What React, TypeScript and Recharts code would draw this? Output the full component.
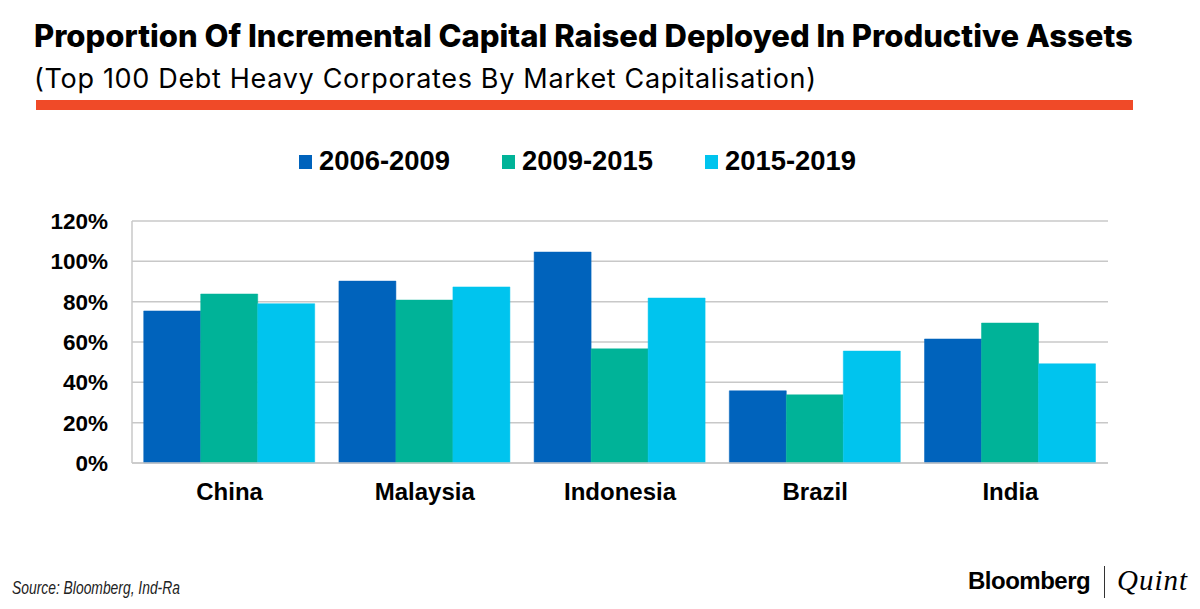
import React from "react";
import { BarChart, Bar, XAxis, YAxis, CartesianGrid, Legend } from "recharts";

const categories = ["China", "Malaysia", "Indonesia", "Brazil", "India"];
const s2006 = [75.4, 90.2, 104.6, 35.8, 61.5];
const s2009 = [83.8, 80.8, 56.6, 33.8, 69.4];
const s2015 = [79, 87.3, 81.8, 55.5, 49.2];
const yTicks = [0, 20, 40, 60, 80, 100, 120];
const data = categories.map((name, i) => ({ name, a: s2006[i], b: s2009[i], c: s2015[i] }));

const TITLE = "Proportion Of Incremental Capital Raised Deployed In Productive Assets";
const SUBTITLE = "(Top 100 Debt Heavy Corporates By Market Capitalisation)";
const SOURCE = "Source: Bloomberg, Ind-Ra";
const arial = "'Liberation Sans', Arial, sans-serif";

const abs = (o: React.CSSProperties): React.CSSProperties => ({ position: "absolute", whiteSpace: "nowrap", color: "#000", ...o });

const legendItems = [
  { label: "2006-2009", color: "#0063BC", x: 299 },
  { label: "2009-2015", color: "#00B398", x: 502 },
  { label: "2015-2019", color: "#00C4EE", x: 705 },
];

const LegendContent = () => (
  <div style={{ position: "relative", width: 1200, height: 40 }}>
    {legendItems.map((it) => (
      <React.Fragment key={it.label}>
        <div style={{ position: "absolute", left: it.x, top: 155 - 142, width: 13, height: 14, background: it.color }} />
        <div style={abs({ left: it.x + 20, top: 145 - 142, fontFamily: arial, fontWeight: 700, fontSize: 27.4, lineHeight: "31px" })}>{it.label}</div>
      </React.Fragment>
    ))}
  </div>
);

export default function App() {
  return (
    <div style={{ position: "absolute", left: 0, top: 0, width: 1200, height: 609, background: "#fff", overflow: "hidden" }}>
      <div style={abs({ left: 34, top: 18, fontFamily: "Inter, sans-serif", fontWeight: 800, fontSize: 31, lineHeight: "36px" })}>{TITLE}</div>
      <div style={abs({ left: 34, top: 62, fontFamily: "Inter, sans-serif", fontWeight: 400, fontSize: 27, lineHeight: "34px", letterSpacing: 0.68 })}>{SUBTITLE}</div>
      <div style={{ position: "absolute", left: 36, top: 100, width: 1097, height: 10, background: "#F04A28" }} />
      <BarChart
        width={1200}
        height={609}
        data={data}
        margin={{ top: 221, right: 92, bottom: 66, left: 0 }}
        barCategoryGap="6%"
        barGap={0}
        style={{ position: "absolute", left: 0, top: 0 }}
      >
        <CartesianGrid horizontal vertical={false} stroke="#C8C8C8" strokeWidth={1.5} />
        <XAxis
          dataKey="name"
          tickLine={false}
          axisLine={{ stroke: "#C8C8C8", strokeWidth: 1.5 }}
          tick={{ fontFamily: arial, fontWeight: 700, fontSize: 24, fill: "#000" }}
          tickMargin={14}
          height={40}
        />
        <YAxis
          width={132}
          domain={[0, 120]}
          ticks={yTicks}
          interval={0}
          tickFormatter={(v: number) => `${v}%`}
          tickLine={false}
          axisLine={{ stroke: "#C8C8C8", strokeWidth: 1.5 }}
          tick={{ fontFamily: arial, fontWeight: 700, fontSize: 22.5, fill: "#000" }}
          tickMargin={18}
        />
        <Legend content={<LegendContent />} wrapperStyle={{ position: "absolute", left: 0, top: 142, width: 1200, height: 40 }} />
        <Bar dataKey="a" name="2006-2009" fill="#0063BC" stroke="#0063BC" strokeWidth={0.5} isAnimationActive={false} />
        <Bar dataKey="b" name="2009-2015" fill="#00B398" stroke="#00B398" strokeWidth={0.5} isAnimationActive={false} />
        <Bar dataKey="c" name="2015-2019" fill="#00C4EE" stroke="#00C4EE" strokeWidth={0.5} isAnimationActive={false} />
      </BarChart>
      <div style={abs({ left: 12, top: 577, fontFamily: arial, fontStyle: "italic", fontSize: 18, lineHeight: "22px", color: "#222", transform: "scaleX(0.77)", transformOrigin: "left top" })}>{SOURCE}</div>
      <div style={abs({ left: 968, top: 566, fontFamily: arial, fontWeight: 700, fontSize: 24, lineHeight: "30px", letterSpacing: -0.5 })}>Bloomberg</div>
      <div style={{ position: "absolute", left: 1104, top: 566, width: 1, height: 32, background: "#333" }} />
      <div style={abs({ left: 1117, top: 562, fontFamily: "'Liberation Serif', serif", fontStyle: "italic", fontSize: 29, lineHeight: "36px", letterSpacing: 1 })}>Quint</div>
    </div>
  );
}
